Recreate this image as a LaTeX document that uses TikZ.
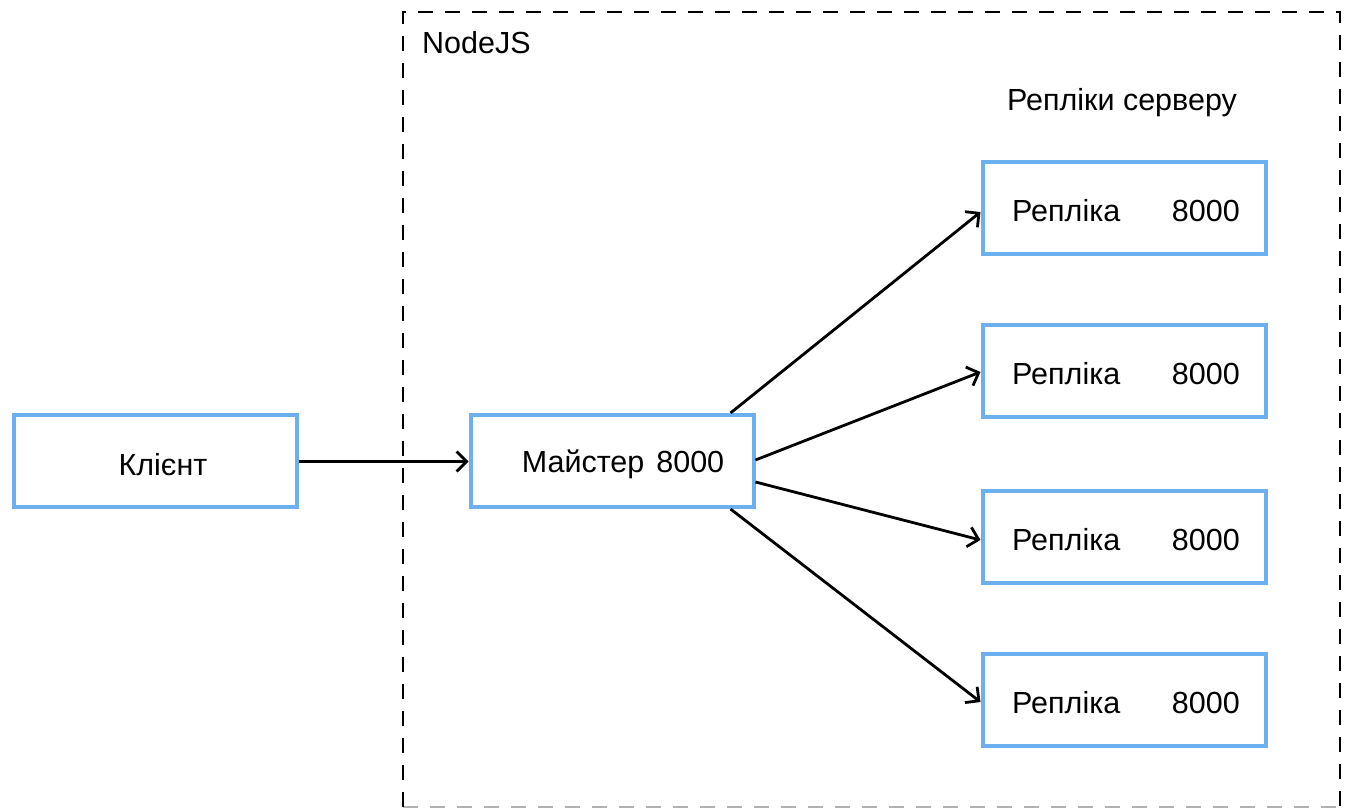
\documentclass[tikz,border=0pt]{standalone}
\usepackage{fontspec}
\setmainfont{Liberation Sans}
\usetikzlibrary{arrows.meta}
\definecolor{boxblue}{RGB}{108,176,240}
\begin{document}
\begin{tikzpicture}[x=1pt,y=-1pt,
  box/.style={draw=boxblue,line width=4pt,fill=white,minimum width=283pt,minimum height=92pt,inner sep=0pt},
  lbl/.style={font=\fontsize{30.5}{34}\selectfont,inner sep=0pt},
  conn/.style={line width=2.8pt,-{Straight Barb[length=10pt,width=20pt,line width=2.8pt]}}]
\useasboundingbox (0,0) rectangle (1350,808);
\fill[white] (0,0) rectangle (1350,808);
% NodeJS container
\draw[line width=1.8pt,dash pattern=on 15pt off 12pt] (403,807) -- (403,12) -- (1340,12) -- (1340,807);
\draw[line width=1.8pt,dash pattern=on 15pt off 12pt,draw opacity=0.3] (403,807) -- (1340,807);
\node[lbl,anchor=west] (nodejs) at (422,43) {NodeJS};
\node[lbl] (replt) at (1122,103) {Репліки серверу};
% boxes
\node[box] (client) at (155,461) {};
\node[lbl] (clientt) at (163,465) {Клієнт};
\node[box] (master) at (612,461) {};
\node[lbl] (mastert) at (623,464) {Майстер\hspace{12pt}8000};
\foreach \i/\y in {1/208,2/371,3/537,4/700}{
  \node[box] (r\i) at (1124,\y) {};
  \node[lbl,anchor=west] (r\i a) at (1012,\y+3) {Репліка};
  \node[lbl,anchor=east] (r\i b) at (1240,\y+3) {8000};
}
% connectors
\draw[conn] ([yshift=-0.5pt]client.east) -- ([yshift=-0.5pt]master.west);
\draw[conn] ([xshift=-25pt]master.north east) -- ([yshift=-4pt]r1.west);
\draw[conn] ([yshift=1pt]master.east) -- ([yshift=-1pt]r2.west);
\draw[conn] ([yshift=-21pt]master.east) -- ([yshift=-3pt]r3.west);
\draw[conn] ([xshift=-25pt]master.south east) -- ([yshift=-2pt]r4.west);
\end{tikzpicture}
\end{document}
